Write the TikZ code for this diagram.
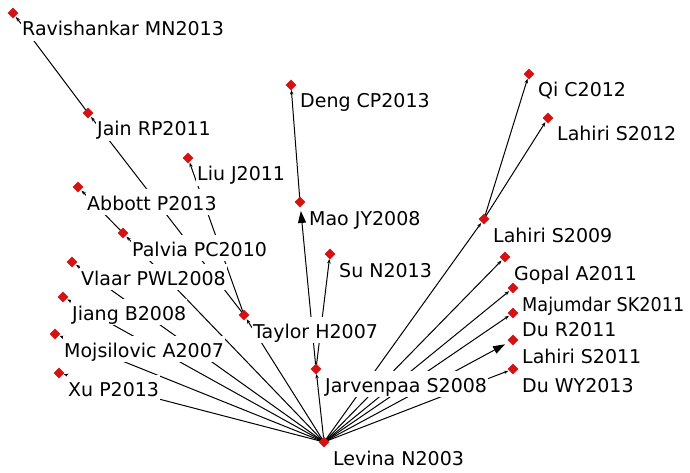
\documentclass[tikz,border=0pt]{standalone}
\usepackage{fontspec}
\setmainfont{DejaVu Sans}
\usetikzlibrary{arrows.meta,shapes.geometric}
\definecolor{nodered}{RGB}{212,18,18}
\tikzset{
  link/.style={line width=1pt, -{Stealth[length=4.5pt,width=3.5pt]}, shorten >=5pt},
  biglink/.style={line width=1pt, -{Triangle[length=12pt,width=8pt]}, shorten >=9pt},
  vert/.style={diamond, fill=nodered, draw=none, inner sep=0pt, minimum size=11pt},
  lbl/.style={anchor=base west, fill=white, inner xsep=1pt, inner ysep=2pt,
    text height=19pt, text depth=3pt, font=\fontsize{19}{19}\selectfont,
    xshift=8pt, yshift=-23pt}
}
\begin{document}
\begin{tikzpicture}[x=1pt,y=-1pt]
\useasboundingbox (0,0) rectangle (690,473);
% vertex positions
\coordinate (rav)   at (13,13);
\coordinate (jain)  at (88,113);
\coordinate (liu)   at (188,158);
\coordinate (abb)   at (78,187);
\coordinate (pal)   at (123,233);
\coordinate (vla)   at (72,262);
\coordinate (jia)   at (63,297);
\coordinate (tay)   at (244,315);
\coordinate (moj)   at (55,334);
\coordinate (xu)    at (59,373);
\coordinate (lev)   at (324,442);
\coordinate (jar)   at (316,369);
\coordinate (su)    at (330,254);
\coordinate (mao)   at (300,202);
\coordinate (deng)  at (291,85);
\coordinate (qi)    at (529,74);
\coordinate (lah12) at (548,118);
\coordinate (lah09) at (484,219);
\coordinate (gop)   at (505,257);
\coordinate (maj)   at (513,288);
\coordinate (dur)   at (513,313);
\coordinate (lah11) at (513,340);
\coordinate (duwy)  at (513,369);
% citation links
\draw[link] (lev) -- (xu);
\draw[link] (lev) -- (moj);
\draw[link] (lev) -- (jia);
\draw[link] (lev) -- (vla);
\draw[link] (lev) -- (pal);
\draw[link] (pal) -- (abb);
\draw[link] (lev) -- (tay);
\draw[link] (tay) -- (jain);
\draw[link] (jain) -- (rav);
\draw[link] (tay) -- (liu);
\draw[link] (lev) -- (jar);
\draw[biglink] (jar) -- (mao);
\draw[link] (jar) -- (su);
\draw[link] (mao) -- (deng);
\draw[link] (lev) -- (lah09);
\draw[link] (lah09) -- (qi);
\draw[link] (lah09) -- (lah12);
\draw[link] (lev) -- (gop);
\draw[link] (lev) -- (maj);
\draw[link] (lev) -- (dur);
\draw[biglink] (lev) -- (lah11);
\draw[link] (lev) -- (duwy);
% labels
\node[lbl] (rav-t)   at (rav)   {Ravishankar MN2013};
\node[lbl] (jain-t)  at (jain)  {Jain RP2011};
\node[lbl] (liu-t)   at (liu)   {Liu J2011};
\node[lbl] (abb-t)   at (abb)   {Abbott P2013};
\node[lbl] (pal-t)   at (pal)   {Palvia PC2010};
\node[lbl] (vla-t)   at (vla)   {Vlaar PWL2008};
\node[lbl] (jia-t)   at (jia)   {Jiang B2008};
\node[lbl] (tay-t)   at (tay)   {Taylor H2007};
\node[lbl] (moj-t)   at (moj)   {Mojsilovic A2007};
\node[lbl] (xu-t)    at (xu)    {Xu P2013};
\node[lbl] (lev-t)   at (lev)   {Levina N2003};
\node[lbl] (jar-t)   at (jar)   {Jarvenpaa S2008};
\node[lbl] (su-t)    at (su)    {Su N2013};
\node[lbl] (mao-t)   at (mao)   {Mao JY2008};
\node[lbl] (deng-t)  at (deng)  {Deng CP2013};
\node[lbl] (qi-t)    at (qi)    {Qi C2012};
\node[lbl] (lah12-t) at (lah12) {Lahiri S2012};
\node[lbl] (lah09-t) at (lah09) {Lahiri S2009};
\node[lbl] (gop-t)   at (gop)   {Gopal A2011};
\node[lbl] (maj-t)   at (maj)   {\scalebox{0.93}[1]{Majumdar SK2011}};
\node[lbl] (dur-t)   at (dur)   {Du R2011};
\node[lbl] (lah11-t) at (lah11) {Lahiri S2011};
\node[lbl] (duwy-t)  at (duwy)  {Du WY2013};
% vertex markers
\foreach \v in {rav,jain,liu,abb,pal,vla,jia,tay,moj,xu,lev,jar,su,mao,deng,qi,lah12,lah09,gop,maj,dur,lah11,duwy}
  \node[vert] (\v-m) at (\v) {};
\end{tikzpicture}
\end{document}
